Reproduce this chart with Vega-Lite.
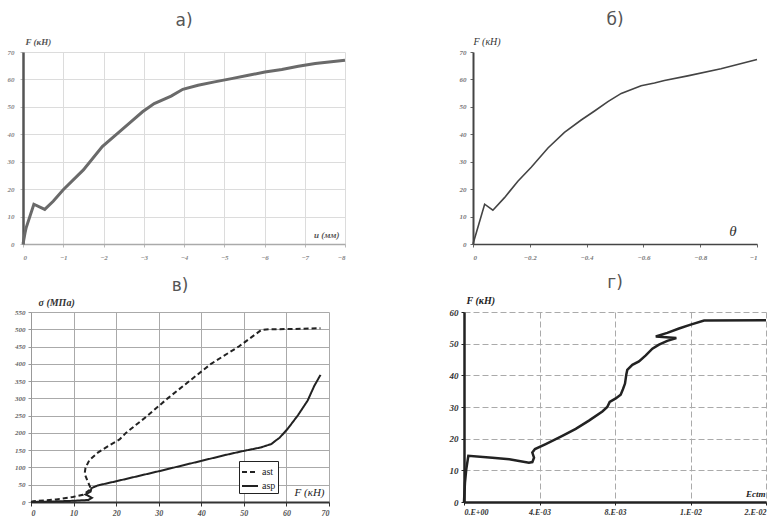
{
  "$schema": "https://vega.github.io/schema/vega-lite/v6.json",
  "background": "white",
  "padding": {"left": 7, "top": 11, "right": 5, "bottom": 5},
  "config": {"view": {"stroke": null}, "font": "Liberation Serif"},
  "datasets": {
    "a": [
      {"u": 0, "F": 0}, {"u": -0.05, "F": 4}, {"u": -0.08, "F": 6}, {"u": -0.27, "F": 14.5},
      {"u": -0.54, "F": 12.6}, {"u": -0.75, "F": 15.6}, {"u": -1.0, "F": 19.8}, {"u": -1.5, "F": 27},
      {"u": -1.97, "F": 35.5}, {"u": -2.35, "F": 40.3}, {"u": -2.68, "F": 44.5}, {"u": -2.97, "F": 48.2},
      {"u": -3.26, "F": 51.2}, {"u": -3.68, "F": 53.9}, {"u": -3.97, "F": 56.4}, {"u": -4.35, "F": 57.9},
      {"u": -4.76, "F": 59.1}, {"u": -5.18, "F": 60.3}, {"u": -5.6, "F": 61.5}, {"u": -6.01, "F": 62.7},
      {"u": -6.43, "F": 63.6}, {"u": -6.84, "F": 64.8}, {"u": -7.26, "F": 65.8}, {"u": -8.0, "F": 67}
    ],
    "b": [
      {"t": 0, "F": 0}, {"t": -0.041, "F": 14.5}, {"t": -0.07, "F": 12.3}, {"t": -0.111, "F": 16.9},
      {"t": -0.158, "F": 22.9}, {"t": -0.205, "F": 28}, {"t": -0.264, "F": 35}, {"t": -0.322, "F": 40.7},
      {"t": -0.381, "F": 45.2}, {"t": -0.428, "F": 48.5}, {"t": -0.475, "F": 51.9}, {"t": -0.522, "F": 54.9},
      {"t": -0.592, "F": 57.7}, {"t": -0.639, "F": 58.7}, {"t": -0.674, "F": 59.6}, {"t": -0.756, "F": 61.3},
      {"t": -0.873, "F": 63.9}, {"t": -1.0, "F": 67.3}
    ],
    "c": [
      {"series": "ast", "i": 1, "F": 0, "s": 0}, {"series": "ast", "i": 2, "F": 0.5, "s": 2},
      {"series": "ast", "i": 3, "F": 5.9, "s": 7.5}, {"series": "ast", "i": 4, "F": 9.8, "s": 14.5},
      {"series": "ast", "i": 5, "F": 12.2, "s": 21}, {"series": "ast", "i": 6, "F": 14.1, "s": 38},
      {"series": "ast", "i": 7, "F": 13.3, "s": 60}, {"series": "ast", "i": 8, "F": 12.6, "s": 82},
      {"series": "ast", "i": 9, "F": 12.8, "s": 99}, {"series": "ast", "i": 10, "F": 13.7, "s": 121},
      {"series": "ast", "i": 11, "F": 15.7, "s": 143}, {"series": "ast", "i": 12, "F": 18.4, "s": 164},
      {"series": "ast", "i": 13, "F": 20.8, "s": 181}, {"series": "ast", "i": 14, "F": 22.3, "s": 200},
      {"series": "ast", "i": 15, "F": 27.4, "s": 250}, {"series": "ast", "i": 16, "F": 32.1, "s": 300},
      {"series": "ast", "i": 17, "F": 37.2, "s": 350}, {"series": "ast", "i": 18, "F": 42.3, "s": 400},
      {"series": "ast", "i": 19, "F": 48.8, "s": 450}, {"series": "ast", "i": 20, "F": 54.1, "s": 498},
      {"series": "ast", "i": 21, "F": 56, "s": 500}, {"series": "ast", "i": 22, "F": 62, "s": 501},
      {"series": "ast", "i": 23, "F": 68, "s": 503},
      {"series": "asp", "i": 1, "F": 0, "s": 0}, {"series": "asp", "i": 2, "F": 5, "s": 1.5},
      {"series": "asp", "i": 3, "F": 10, "s": 3.5}, {"series": "asp", "i": 4, "F": 13.5, "s": 6},
      {"series": "asp", "i": 5, "F": 14.3, "s": 12}, {"series": "asp", "i": 6, "F": 12.8, "s": 22},
      {"series": "asp", "i": 7, "F": 14, "s": 30}, {"series": "asp", "i": 8, "F": 14.2, "s": 40},
      {"series": "asp", "i": 9, "F": 15.7, "s": 48}, {"series": "asp", "i": 10, "F": 20, "s": 60},
      {"series": "asp", "i": 11, "F": 30, "s": 89}, {"series": "asp", "i": 12, "F": 40, "s": 119},
      {"series": "asp", "i": 13, "F": 46, "s": 137}, {"series": "asp", "i": 14, "F": 50, "s": 148},
      {"series": "asp", "i": 15, "F": 54, "s": 158}, {"series": "asp", "i": 16, "F": 56.5, "s": 168},
      {"series": "asp", "i": 17, "F": 57.5, "s": 178}, {"series": "asp", "i": 18, "F": 58.4, "s": 186},
      {"series": "asp", "i": 19, "F": 60.3, "s": 212}, {"series": "asp", "i": 20, "F": 62.7, "s": 251},
      {"series": "asp", "i": 21, "F": 65, "s": 294}, {"series": "asp", "i": 22, "F": 66.5, "s": 335},
      {"series": "asp", "i": 23, "F": 68, "s": 368}
    ],
    "d": [
      {"i": 1, "e": 0, "F": 0}, {"i": 2, "e": 0.00005, "F": 6}, {"i": 3, "e": 0.00012, "F": 10.3},
      {"i": 4, "e": 0.00023, "F": 14.6}, {"i": 5, "e": 0.0015, "F": 14}, {"i": 6, "e": 0.0024, "F": 13.5},
      {"i": 7, "e": 0.00344, "F": 12.4}, {"i": 8, "e": 0.00362, "F": 12.6}, {"i": 9, "e": 0.00371, "F": 14},
      {"i": 10, "e": 0.00362, "F": 15.6}, {"i": 11, "e": 0.00376, "F": 16.7}, {"i": 12, "e": 0.00433, "F": 18.3},
      {"i": 13, "e": 0.00521, "F": 20.9}, {"i": 14, "e": 0.00592, "F": 23.1}, {"i": 15, "e": 0.00662, "F": 25.7},
      {"i": 16, "e": 0.00733, "F": 28.6}, {"i": 17, "e": 0.00759, "F": 30}, {"i": 18, "e": 0.00772, "F": 31.6},
      {"i": 19, "e": 0.00804, "F": 32.7}, {"i": 20, "e": 0.0083, "F": 33.9}, {"i": 21, "e": 0.00842, "F": 35.6},
      {"i": 22, "e": 0.00853, "F": 37.4}, {"i": 23, "e": 0.0086, "F": 40.3}, {"i": 24, "e": 0.00865, "F": 41.7},
      {"i": 25, "e": 0.00892, "F": 43.3}, {"i": 26, "e": 0.00927, "F": 44.4}, {"i": 27, "e": 0.00963, "F": 46.3},
      {"i": 28, "e": 0.00998, "F": 48.4}, {"i": 29, "e": 0.01033, "F": 49.7}, {"i": 30, "e": 0.01077, "F": 50.9},
      {"i": 31, "e": 0.01125, "F": 51.8}, {"i": 32, "e": 0.01016, "F": 52.3}, {"i": 33, "e": 0.01077, "F": 53.4},
      {"i": 34, "e": 0.01139, "F": 54.8}, {"i": 35, "e": 0.01201, "F": 56}, {"i": 36, "e": 0.01272, "F": 57.3},
      {"i": 37, "e": 0.016, "F": 57.4}
    ]
  },
  "vconcat": [
    {
      "hconcat": [
        {
          "width": 322, "height": 192,
          "title": {"text": "а)", "font": "DejaVu Sans", "fontSize": 17, "fontWeight": "normal", "color": "#555", "frame": "group", "offset": 7, "anchor": "middle"},
          "data": {"name": "a"},
          "mark": {"type": "line", "color": "#6a6a6a", "strokeWidth": 3},
          "encoding": {
            "x": {"field": "u", "type": "quantitative", "scale": {"domain": [-8, 0], "reverse": true, "nice": false},
              "axis": {"values": [0, -1, -2, -3, -4, -5, -6, -7, -8], "format": "d", "grid": true, "gridColor": "#dcdcdc",
                "domainColor": "#aaa", "domainWidth": 1.5, "tickColor": "#bbb", "tickSize": 3,
                "labelFont": "Liberation Serif", "labelFontStyle": "italic", "labelFontWeight": "bold", "labelFontSize": 7, "labelColor": "#888", "labelPadding": 6,
                "title": "u (мм)", "titleX": 316, "titleY": -5, "titleAlign": "right", "titleBaseline": "bottom",
                "titleFont": "Liberation Serif", "titleFontStyle": "italic", "titleFontWeight": "bold", "titleFontSize": 9, "titleColor": "#555"}},
            "y": {"field": "F", "type": "quantitative", "scale": {"domain": [0, 70], "nice": false},
              "axis": {"values": [0, 10, 20, 30, 40, 50, 60, 70], "grid": true, "gridColor": "#dcdcdc",
                "domainColor": "#555", "domainWidth": 2.5, "tickColor": "#bbb", "tickSize": 3,
                "labelFont": "Liberation Serif", "labelFontStyle": "italic", "labelFontWeight": "bold", "labelFontSize": 7, "labelColor": "#888", "labelPadding": 6,
                "title": "F (кН)", "titleAngle": 0, "titleX": 2, "titleY": -6, "titleAlign": "left", "titleBaseline": "bottom",
                "titleFont": "Liberation Serif", "titleFontStyle": "italic", "titleFontWeight": "bold", "titleFontSize": 9, "titleColor": "#555"}}
          }
        },
        {
          "width": 284, "height": 192,
          "title": {"text": "б)", "font": "DejaVu Sans", "fontSize": 17, "fontWeight": "normal", "color": "#555", "frame": "group", "offset": 7, "anchor": "middle"},
          "data": {"name": "b"},
          "mark": {"type": "line", "color": "#444", "strokeWidth": 1.6},
          "encoding": {
            "x": {"field": "t", "type": "quantitative", "scale": {"domain": [-1, 0], "reverse": true, "nice": false},
              "axis": {"values": [0, -0.2, -0.4, -0.6, -0.8, -1], "format": "~g", "grid": false,
                "domainColor": "#444", "domainWidth": 1.5, "tickColor": "#666", "tickSize": 3,
                "labelFont": "Liberation Serif", "labelFontStyle": "italic", "labelFontWeight": "bold", "labelFontSize": 7, "labelColor": "#777", "labelPadding": 6,
                "title": "θ", "titleX": 263, "titleY": -6, "titleAlign": "right", "titleBaseline": "bottom",
                "titleFont": "Liberation Serif", "titleFontStyle": "italic", "titleFontWeight": "normal", "titleFontSize": 15, "titleColor": "#333"}},
            "y": {"field": "F", "type": "quantitative", "scale": {"domain": [0, 70], "nice": false},
              "axis": {"values": [0, 10, 20, 30, 40, 50, 60, 70], "grid": false,
                "domainColor": "#444", "domainWidth": 2, "tickColor": "#666", "tickSize": 3,
                "labelFont": "Liberation Serif", "labelFontStyle": "italic", "labelFontWeight": "bold", "labelFontSize": 7, "labelColor": "#777", "labelPadding": 4,
                "title": "F (кН)", "titleAngle": 0, "titleX": 0, "titleY": -6, "titleAlign": "left", "titleBaseline": "bottom",
                "titleFont": "Liberation Serif", "titleFontStyle": "italic", "titleFontWeight": "normal", "titleFontSize": 10, "titleColor": "#333"}}
          }
        }
      ],
      "spacing": 128,
      "bounds": "flush"
    },
    {
      "hconcat": [
        {"width": 8, "height": 190, "data": {"values": []}, "mark": "point"},
        {
          "width": 298, "height": 190,
          "title": {"text": "в)", "font": "DejaVu Sans", "fontSize": 17, "fontWeight": "normal", "color": "#555", "frame": "group", "offset": 2, "anchor": "middle"},
          "data": {"name": "c"},
          "mark": {"type": "line", "color": "#222", "strokeWidth": 2},
          "encoding": {
            "x": {"field": "F", "type": "quantitative", "scale": {"domain": [0, 70], "nice": false},
              "axis": {"values": [0, 10, 20, 30, 40, 50, 60, 70], "grid": true, "gridColor": "#aaa",
                "domainColor": "#333", "domainWidth": 2, "tickColor": "#333", "tickSize": 4,
                "labelFont": "Liberation Serif", "labelFontStyle": "italic", "labelFontWeight": "bold", "labelFontSize": 8, "labelColor": "#555", "labelPadding": 3,
                "title": "F (кН)", "titleX": 293, "titleY": -5, "titleAlign": "right", "titleBaseline": "bottom",
                "titleFont": "Liberation Serif", "titleFontStyle": "italic", "titleFontWeight": "normal", "titleFontSize": 11, "titleColor": "#222"}},
            "y": {"field": "s", "type": "quantitative", "scale": {"domain": [0, 550], "nice": false},
              "axis": {"values": [0, 50, 100, 150, 200, 250, 300, 350, 400, 450, 500, 550], "grid": true, "gridColor": "#aaa",
                "domainColor": "#999", "domainWidth": 1, "tickColor": "#999", "tickSize": 3,
                "labelFont": "Liberation Serif", "labelFontStyle": "italic", "labelFontWeight": "bold", "labelFontSize": 7, "labelColor": "#666", "labelPadding": 3,
                "title": "σ (МПа)", "titleAngle": 0, "titleX": 7, "titleY": -5, "titleAlign": "left", "titleBaseline": "bottom",
                "titleFont": "Liberation Serif", "titleFontStyle": "italic", "titleFontWeight": "bold", "titleFontSize": 10, "titleColor": "#333"}},
            "strokeDash": {"field": "series", "type": "nominal",
              "scale": {"domain": ["ast", "asp"], "range": [[5, 3], [1, 0]]},
              "legend": {"orient": "none", "legendX": 216, "legendY": 409, "title": null,
                "strokeColor": "#222", "fillColor": "white", "padding": 2, "symbolType": "stroke",
                "symbolSize": 256, "symbolStrokeWidth": 2, "symbolStrokeColor": "#222",
                "labelFont": "Liberation Serif", "labelFontSize": 10, "labelColor": "#222", "rowPadding": -1, "labelOffset": 3}},
            "order": {"field": "i", "type": "quantitative"}
          }
        },
        {"width": 135, "height": 190, "data": {"values": []}, "mark": "point"},
        {
          "width": 302, "height": 190,
          "title": {"text": "г)", "font": "DejaVu Sans", "fontSize": 17, "fontWeight": "normal", "color": "#555", "frame": "group", "offset": 3, "anchor": "middle"},
          "data": {"name": "d"},
          "mark": {"type": "line", "color": "#222", "strokeWidth": 2.5},
          "encoding": {
            "x": {"field": "e", "type": "quantitative", "scale": {"domain": [0, 0.016], "nice": false},
              "axis": {"values": [0, 0.004, 0.008, 0.012, 0.016], "grid": true, "gridColor": "#aaa", "gridDash": [6, 3],
                "labelExpr": "datum.value < 0.001 ? '0.E+00' : datum.value < 0.005 ? '4.E-03' : datum.value < 0.009 ? '8.E-03' : datum.value < 0.013 ? '1.E-02' : '2.E-02'",
                "domainColor": "#222", "domainWidth": 2.5, "tickColor": "#222", "tickSize": 3,
                "labelFont": "Liberation Serif", "labelFontStyle": "italic", "labelFontWeight": "bold", "labelFontSize": 8, "labelColor": "#333", "labelPadding": 3,
                "title": "Ectm", "titleX": 301, "titleY": -4, "titleAlign": "right", "titleBaseline": "bottom",
                "titleFont": "Liberation Serif", "titleFontStyle": "italic", "titleFontWeight": "bold", "titleFontSize": 9, "titleColor": "#222"}},
            "y": {"field": "F", "type": "quantitative", "scale": {"domain": [0, 60], "nice": false},
              "axis": {"values": [0, 10, 20, 30, 40, 50, 60], "grid": true, "gridColor": "#aaa", "gridDash": [6, 3],
                "domainColor": "#222", "domainWidth": 2.5, "tickColor": "#222", "tickSize": 3,
                "labelFont": "Liberation Serif", "labelFontStyle": "italic", "labelFontWeight": "bold", "labelFontSize": 9, "labelColor": "#333", "labelPadding": 3,
                "title": "F (кН)", "titleAngle": 0, "titleX": 2, "titleY": -7, "titleAlign": "left", "titleBaseline": "bottom",
                "titleFont": "Liberation Serif", "titleFontStyle": "italic", "titleFontWeight": "bold", "titleFontSize": 10, "titleColor": "#222"}},
            "order": {"field": "i", "type": "quantitative"}
          }
        }
      ],
      "spacing": 0,
      "bounds": "flush"
    }
  ],
  "spacing": 14
}
